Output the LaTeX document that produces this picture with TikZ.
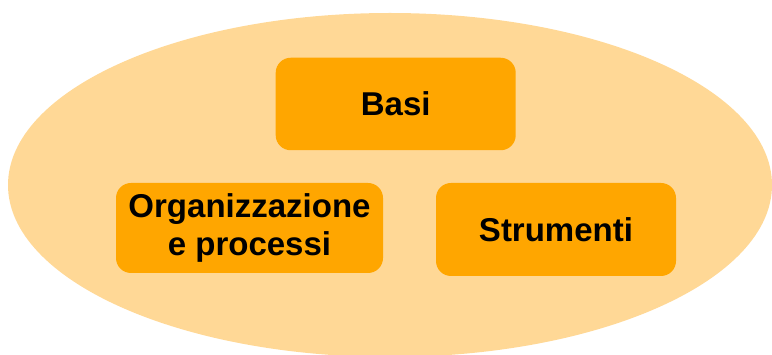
\documentclass[tikz,border=0pt]{standalone}
\usepackage{fontspec}
\setmainfont{Liberation Sans}
\definecolor{ellfill}{RGB}{255,216,150}
\definecolor{boxfill}{RGB}{255,166,0}
\tikzset{
  box/.style={rectangle, rounded corners=15pt, fill=boxfill, inner sep=0pt,
    align=center, font=\fontsize{33}{37.5}\selectfont\bfseries, text=black}
}
\begin{document}
\begin{tikzpicture}[x=1pt,y=-1pt]
\useasboundingbox (0,0) rectangle (772,355);
\fill[ellfill] (390,185) ellipse [x radius=382, y radius=172];
\node[box, minimum width=240pt, minimum height=92.5pt] (basi) at (395.7,104) {Basi};
\node[box, minimum width=267pt, minimum height=90pt] (org) at (249.5,228) {Organizzazione\\e processi};
\node[box, minimum width=240pt, minimum height=93pt] (str) at (556,229.5) {Strumenti};
\end{tikzpicture}
\end{document}
